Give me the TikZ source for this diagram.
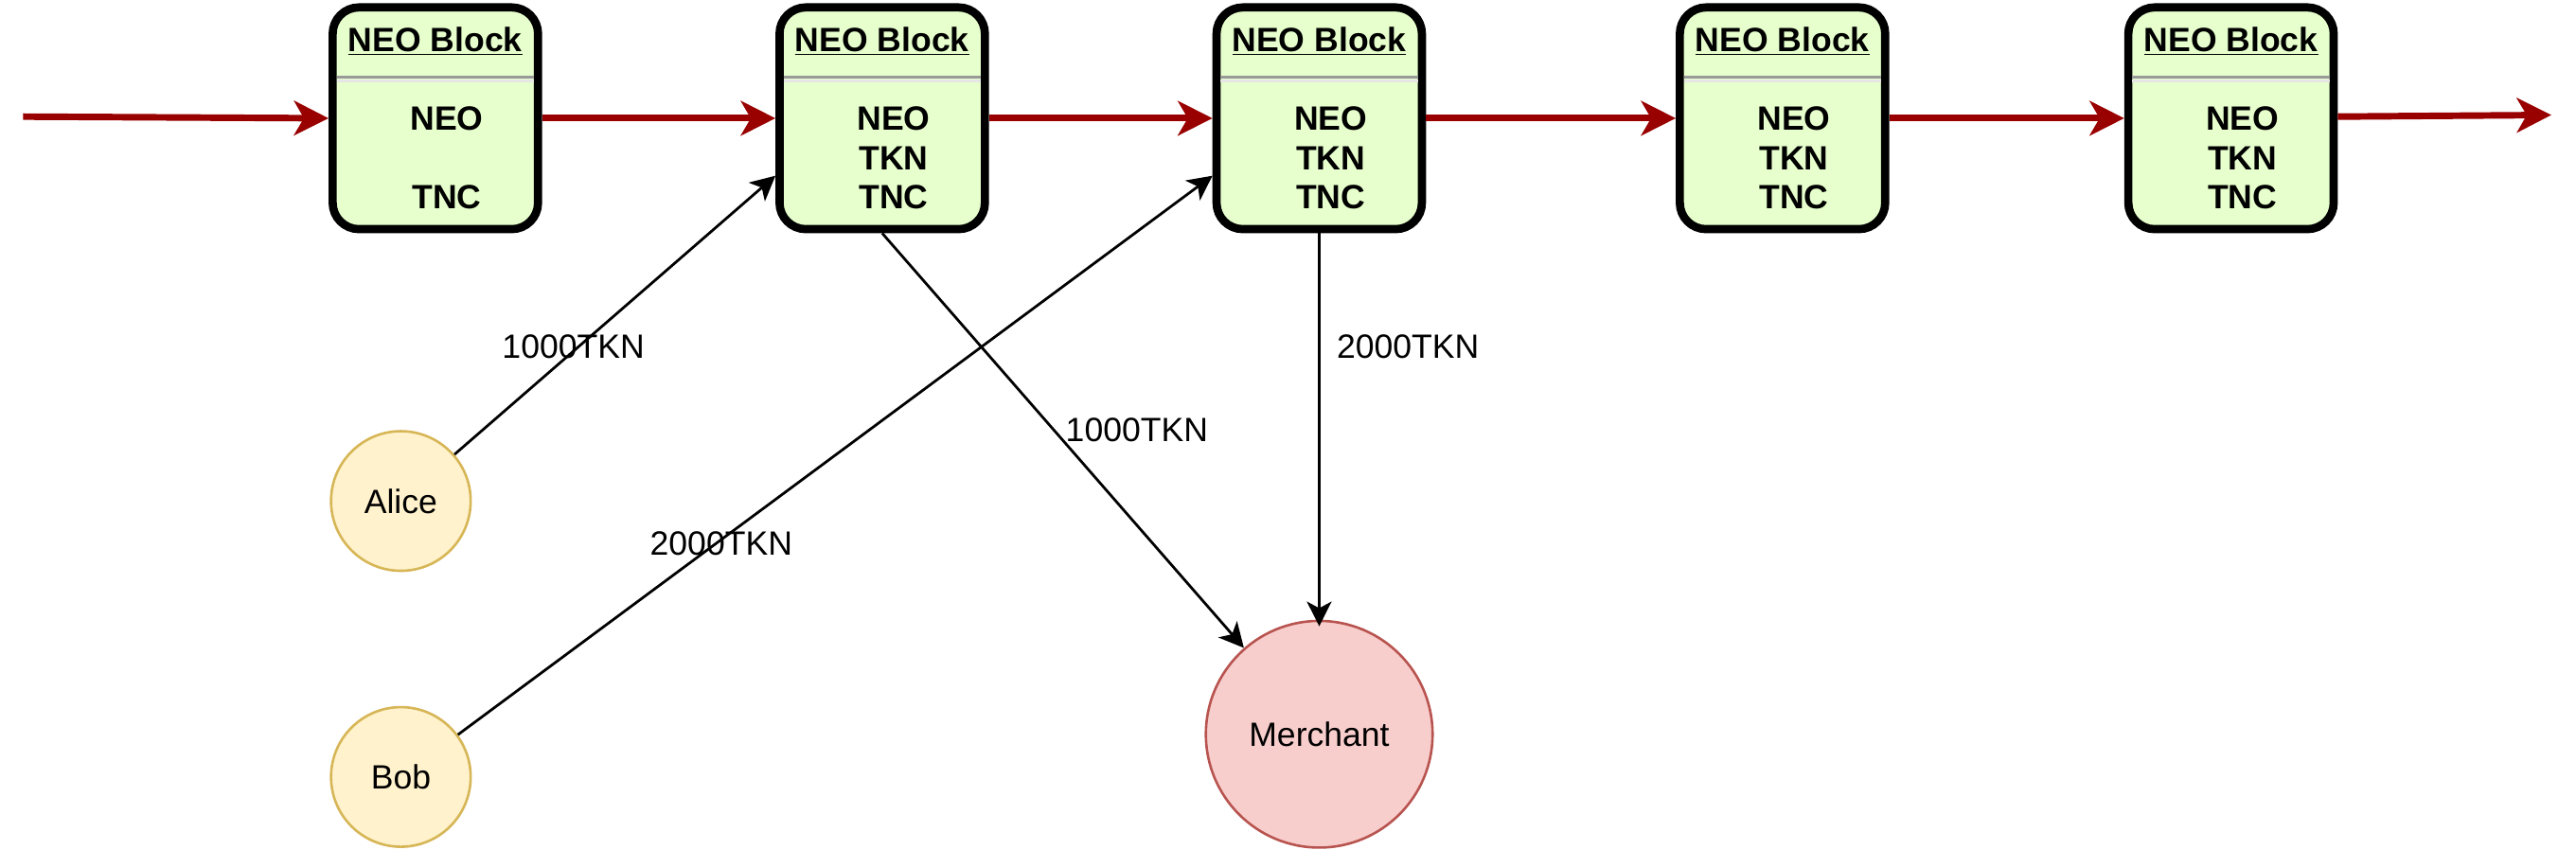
\documentclass[tikz,border=0pt]{standalone}
\usepackage{fontspec}
\setmainfont{Liberation Sans}
\usetikzlibrary{arrows.meta}
\definecolor{blockfill}{HTML}{E6FFCC}
\definecolor{chainred}{HTML}{990000}
\definecolor{userfill}{HTML}{FFF2CC}
\definecolor{userdraw}{HTML}{D6B656}
\definecolor{merchfill}{HTML}{F8CECC}
\definecolor{merchdraw}{HTML}{B85450}
\definecolor{sepdark}{HTML}{999999}
\definecolor{seplight}{HTML}{E6E6E6}
\begin{document}
\begin{tikzpicture}[x=1pt,y=-1pt,
  blockbox/.style={draw=black, line width=5pt, fill=blockfill, rounded corners=16pt,
    minimum width=125pt, minimum height=135pt, inner sep=0pt},
  txt/.style={font=\fontsize{20.5}{24.6}\selectfont, inner sep=0pt},
  btxt/.style={font=\fontsize{20.5}{24.6}\selectfont\bfseries, inner sep=0pt},
  redarrow/.style={draw=chainred, line width=4pt,
    -{Stealth[length=21pt, width=21pt, inset=6pt]}},
  blackarrow/.style={draw=black, line width=1.6pt,
    -{Stealth[length=15pt, width=15pt, inset=4pt]}},
  usernode/.style={circle, draw=userdraw, fill=userfill, line width=1.5pt,
    minimum size=85pt, inner sep=0pt, font=\fontsize{20.5}{24.6}\selectfont},
  merchnode/.style={circle, draw=merchdraw, fill=merchfill, line width=1.5pt,
    minimum size=138pt, inner sep=0pt, font=\fontsize{20.5}{24.6}\selectfont}
]
\useasboundingbox (0,0) rectangle (1568,517);

% blocks
\foreach \i/\x in {1/265,2/537,3/803,4/1085,5/1358}{
  \node[blockbox] (b\i) at (\x,72) {};
  \draw[seplight, line width=2.2pt] (\x-60,49.3) -- (\x+60,49.3);
  \draw[sepdark, line width=1.4pt] (\x-60,47) -- (\x+60,47);
  \node[btxt, anchor=base] (h\i) at (\x,31.5) {\underline{NEO Block}};
  \node[btxt, anchor=base] (n\i) at (\x+7,79.3) {NEO};
  \node[btxt, anchor=base] (t\i) at (\x+7,127.3) {TNC};
}
\foreach \i/\x in {2/537,3/803,4/1085,5/1358}{
  \node[btxt, anchor=base] (k\i) at (\x+7,103.3) {TKN};
}

% chain
\coordinate (chainstart) at (14,71);
\coordinate (chainend) at (1553,70);
\draw[redarrow] (chainstart) -- (b1.west);
\draw[redarrow] (b1.east) -- (b2.west);
\draw[redarrow] (b2.east) -- (b3.west);
\draw[redarrow] (b3.east) -- (b4.west);
\draw[redarrow] (b4.east) -- (b5.west);
\draw[redarrow] ([yshift=1pt]b5.east) -- (chainend);

% users
\node[usernode] (alice) at (244,305) {Alice};
\node[usernode] (bob) at (244,473) {Bob};
\node[merchnode] (merchant) at (803,447) {Merchant};

% transfers
\draw[blackarrow] (alice) -- ([yshift=-35pt]b2.west);
\draw[blackarrow] (bob) -- ([yshift=-35pt]b3.west);
\draw[blackarrow] (b2.south) -- (merchant);
\draw[blackarrow] (b3.south) -- ([yshift=-4pt]merchant.north);

% labels
\node[txt] (l1) at (349,211) {1000TKN};
\node[txt] (l2) at (439,331) {2000TKN};
\node[txt] (l3) at (692,262) {1000TKN};
\node[txt] (l4) at (857,211) {2000TKN};
\end{tikzpicture}
\end{document}
